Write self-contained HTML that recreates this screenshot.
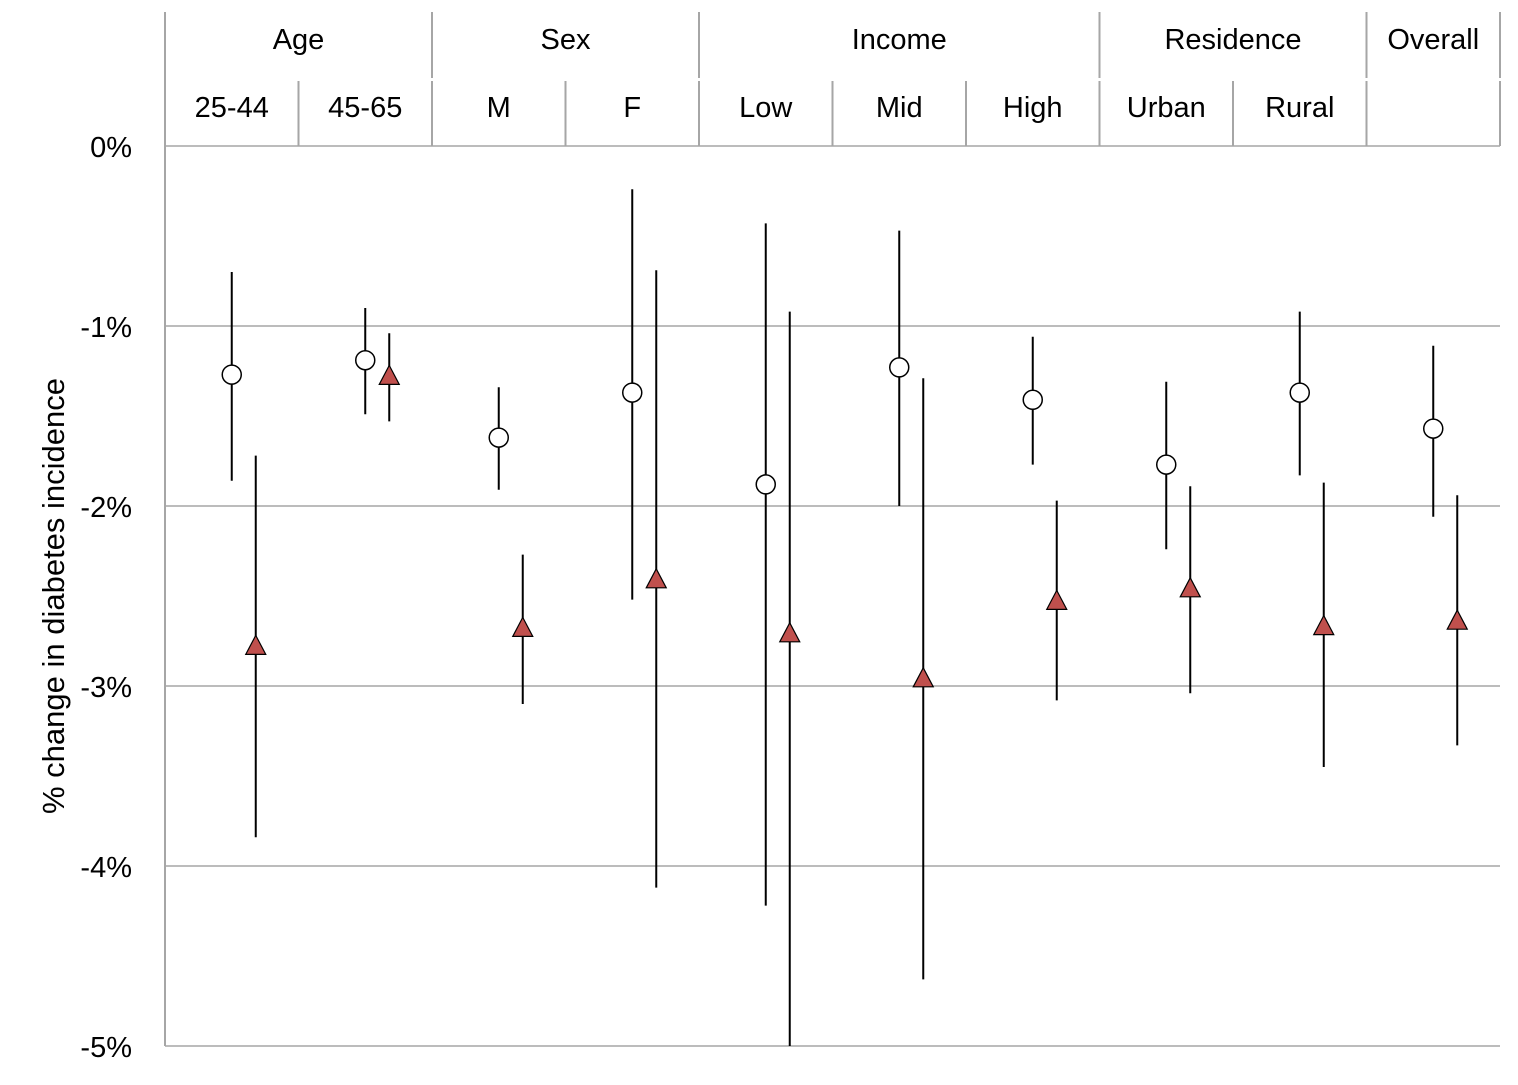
<!DOCTYPE html>
<html><head><meta charset="utf-8"><style>
html,body{margin:0;padding:0;background:#fff;}
svg text{font-family:"Liberation Sans",sans-serif;fill:#000;}
</style></head><body>
<svg id="chart" width="1518" height="1080" xmlns="http://www.w3.org/2000/svg"></svg>
<script>
const categories=["25-44","45-65","M","F","Low","Mid","High","Urban","Rural","Overall"];
const groups=[["Age",0,2],["Sex",2,4],["Income",4,7],["Residence",7,9],["Overall",9,10]];
const circleVals=[-1.27,-1.19,-1.62,-1.37,-1.88,-1.23,-1.41,-1.77,-1.37,-1.57];
const circleLo=[-1.86,-1.49,-1.91,-2.52,-4.22,-2.00,-1.77,-2.24,-1.83,-2.06];
const circleHi=[-0.70,-0.90,-1.34,-0.24,-0.43,-0.47,-1.06,-1.31,-0.92,-1.11];
const triVals=[-2.78,-1.28,-2.68,-2.41,-2.71,-2.96,-2.53,-2.46,-2.67,-2.64];
const triLo=[-3.84,-1.53,-3.10,-4.12,-5.0,-4.63,-3.08,-3.04,-3.45,-3.33];
const triHi=[-1.72,-1.04,-2.27,-0.69,-0.92,-1.29,-1.97,-1.89,-1.87,-1.94];
const yTicks=[0,-1,-2,-3,-4,-5];
const yLabels=["0%","-1%","-2%","-3%","-4%","-5%"];

const svg=document.getElementById('chart');
const NS="http://www.w3.org/2000/svg";
const X0=165,X1=1500,Y0=146,Y1=1046;
const colW=(X1-X0)/categories.length;
const y=v=>Y0+(0-v)/5*(Y1-Y0);
const xc=i=>X0+colW*(i+0.5);
function mk(tag,attrs,name,parent){const e=document.createElementNS(NS,tag);for(const k in attrs)e.setAttribute(k,attrs[k]);


(parent||svg).appendChild(e);return e;}

yTicks.forEach((t,i)=>{
  mk('line',{x1:X0,x2:X1,y1:y(t),y2:y(t),stroke:'#a6a6a6','stroke-width':1.5},'gridline');
  const tx=mk('text',{x:132,y:y(t)+11,'text-anchor':'end','font-size':29},'y-tick-label');
  tx.textContent=yLabels[i];
});
mk('line',{x1:X0,x2:X0,y1:12,y2:Y1,stroke:'#a6a6a6','stroke-width':2},'y-axis-line');
const yt=mk('text',{x:0,y:0,'font-size':31,'text-anchor':'middle',transform:'translate(64,596) rotate(-90)'},'y-axis-title');
yt.textContent="% change in diabetes incidence";

groups.forEach(g=>{
  const xa=X0+colW*g[1],xb=X0+colW*g[2];
  mk('line',{x1:xb,x2:xb,y1:12,y2:78,stroke:'#a6a6a6','stroke-width':2},'group-divider');
  const t=mk('text',{x:(xa+xb)/2,y:49,'text-anchor':'middle','font-size':29},'group-label');
  t.textContent=g[0];
});
categories.forEach((c,i)=>{
  const xb=X0+colW*(i+1);
  mk('line',{x1:xb,x2:xb,y1:81,y2:Y0,stroke:'#a6a6a6','stroke-width':2},'category-divider');
  if(c!=="Overall"){const t=mk('text',{x:xc(i),y:117,'text-anchor':'middle','font-size':29},'category-label');t.textContent=c;}
});

categories.forEach((c,i)=>{
  const cx=xc(i), tx=xc(i)+24;
  mk('line',{x1:cx,x2:cx,y1:y(circleLo[i]),y2:y(circleHi[i]),stroke:'#000','stroke-width':2},'circle-error-bar');
  mk('line',{x1:tx,x2:tx,y1:y(triLo[i]),y2:y(triHi[i]),stroke:'#000','stroke-width':2},'triangle-error-bar');
  mk('circle',{cx:cx,cy:y(circleVals[i]),r:9.5,fill:'#fff',stroke:'#000','stroke-width':1.5},'circle-point');
  const ty=y(triVals[i]);
  mk('polygon',{points:`${tx},${ty-11} ${tx-10},${ty+8} ${tx+10},${ty+8}`,fill:'#c0504d',stroke:'#000','stroke-width':1.2},'triangle-point');
});
</script>
</body></html>
